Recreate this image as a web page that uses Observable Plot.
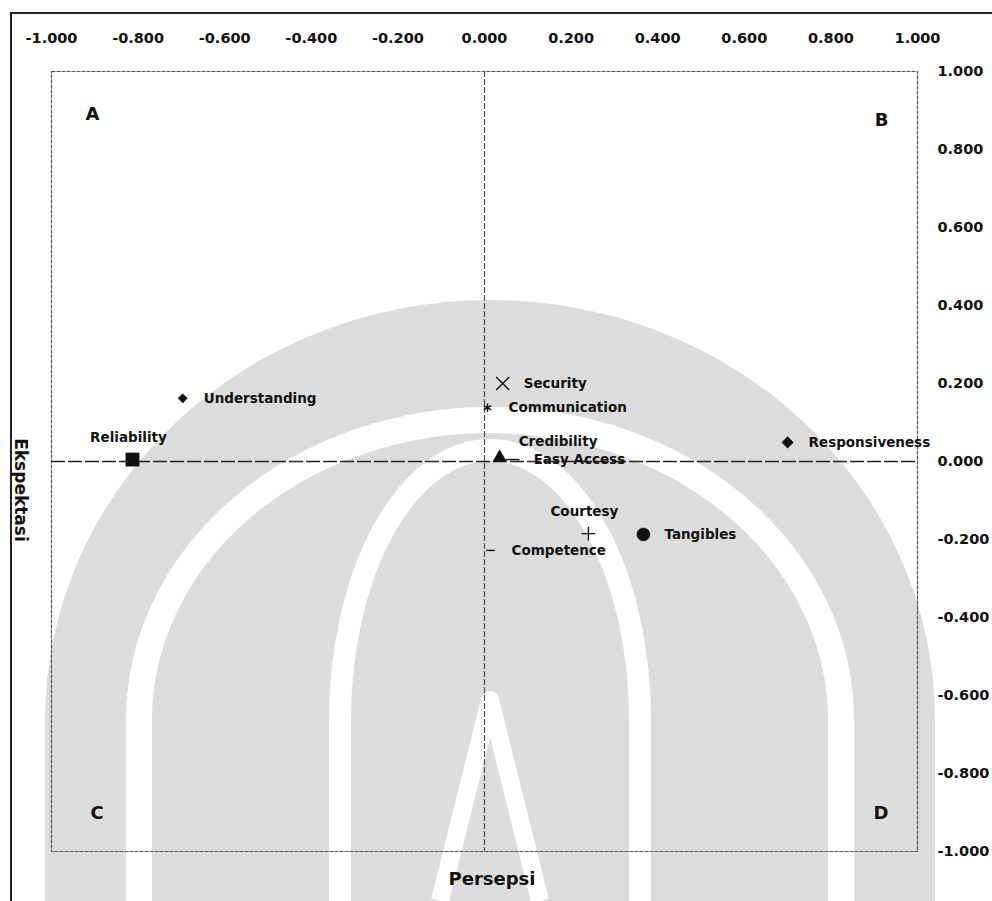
<!DOCTYPE html>
<html>
<head>
<meta charset="utf-8">
<script src="https://cdn.jsdelivr.net/npm/d3@7"></script>
<script src="https://cdn.jsdelivr.net/npm/@observablehq/plot@0.6"></script>
<style>
  html, body { margin: 0; padding: 0; background: #fff; }
  #wrap { position: relative; width: 992px; height: 901px; overflow: hidden; }
  #watermark { position: absolute; left: 0; top: 0; }
  #border { position: absolute; left: 10px; top: 12px; width: 990px; height: 900px;
            border-left: 2px solid #222; border-top: 2px solid #222; }
  #chart { position: absolute; left: 0; top: 0; }
  #ytitle { position: absolute; left: 21px; top: 490px; transform: translate(-50%, -50%) rotate(90deg);
            font: bold 17px "DejaVu Sans", sans-serif; color: #111; white-space: nowrap; }
  #xtitle { position: absolute; left: 492px; top: 878px; transform: translate(-50%, -50%);
            font: bold 18px "DejaVu Sans", sans-serif; color: #111; white-space: nowrap; }
</style>
</head>
<body>
<div id="wrap">
  <!-- faint background emblem (scanned watermark), decoration only -->
  <svg id="watermark" width="992" height="901" viewBox="0 0 992 901">
    <path d="M 45 901 L 45 720 A 445 420 0 0 1 935 720 L 935 901 Z" fill="#dcdcdc"/>
    <g fill="none" stroke="#fff" stroke-linejoin="round">
      <path d="M 139 901 L 139 720 A 351 300 0 0 1 841 720 L 841 901" stroke-width="26"/>
      <path d="M 340 901 L 340 720 A 150 270 0 0 1 640 720 L 640 901" stroke-width="22"/>
      <path d="M 440 901 L 490 700 L 540 901" stroke-width="18"/>
    </g>
  </svg>
  <div id="border"></div>
  <div id="chart"></div>
  <div id="ytitle">Ekspektasi</div>
  <div id="xtitle">Persepsi</div>
</div>
<script>
// ---- data ----
const dimensions   = ["Reliability", "Understanding", "Security", "Communication", "Credibility",
                      "Easy Access", "Responsiveness", "Courtesy", "Tangibles", "Competence"];
const persepsi     = [-0.813, -0.697, 0.042, 0.007, 0.035, 0.065, 0.700, 0.240, 0.367, 0.014];
const ekspektasi   = [0.005, 0.162, 0.200, 0.138, 0.010, 0.005, 0.049, -0.185, -0.187, -0.228];
const labelPlacement = ["above", "right", "right", "right", "aboveRight",
                        "right", "right", "above", "right", "right"];
const xTicks = [-1, -0.8, -0.6, -0.4, -0.2, 0, 0.2, 0.4, 0.6, 0.8, 1];
const yTicks = [-1, -0.8, -0.6, -0.4, -0.2, 0, 0.2, 0.4, 0.6, 0.8, 1];
const quadrantLabels = ["A", "B", "C", "D"];

// ---- styling (not data) ----
const dashSymbol = {
  draw(context, size) {
    const w = Math.sqrt(size) * 0.7;
    context.moveTo(-w, 0); context.lineTo(w, 0);
  }
};
const markerStyle = {
  "Reliability":    {symbol: "square",   r: 7.5, filled: true},
  "Understanding":  {symbol: "diamond2", r: 4.2, filled: true},
  "Security":       {symbol: "times",    r: 6,   filled: false},
  "Communication":  {symbol: "asterisk", r: 4,   filled: false},
  "Credibility":    {symbol: "triangle", r: 5,   filled: true},
  "Easy Access":    {symbol: dashSymbol, r: 5.5, filled: false},
  "Responsiveness": {symbol: "diamond2", r: 5.2, filled: true},
  "Courtesy":       {symbol: "plus",     r: 4.5, filled: false},
  "Tangibles":      {symbol: "circle",   r: 6.5, filled: true},
  "Competence":     {symbol: dashSymbol, r: 3.5, filled: false}
};
const placement = {
  right:      {dx: 21, dy: 0,   textAnchor: "start"},
  above:      {dx: -4, dy: -22, textAnchor: "middle"},
  aboveRight: {dx: 19, dy: -16, textAnchor: "start"}
};

const rows = dimensions.map((name, i) => ({
  name, x: persepsi[i], y: ekspektasi[i], place: labelPlacement[i]
}));

const font = "'DejaVu Sans', sans-serif";
const fmt = d => d.toFixed(3);
const labelMarks = Object.entries(placement).map(([key, p]) =>
  Plot.text(rows.filter(d => d.place === key), {
    x: "x", y: "y", text: "name", dx: p.dx, dy: p.dy, textAnchor: p.textAnchor,
    fontSize: 13.5, fontWeight: "bold", fill: "#111", fontFamily: font
  })
);

const quadText = (letter, frameAnchor, dx, dy) => Plot.text([letter], {
  text: d => d, frameAnchor, dx, dy, fontSize: 18, fontWeight: "bold", fill: "#111", fontFamily: font
});

const chart = Plot.plot({
  width: 992,
  height: 901,
  marginLeft: 51,
  marginRight: 75,
  marginTop: 71,
  marginBottom: 50,
  style: {fontFamily: font, background: "transparent"},
  x: {domain: [-1, 1], label: null},
  y: {domain: [-1, 1], label: null},
  r: {type: "identity"},
  marks: [
    Plot.frame({stroke: "#555", strokeWidth: 1.2, strokeDasharray: "4,1"}),
    Plot.ruleX([0], {stroke: "#555", strokeWidth: 1.2, strokeDasharray: "6,2"}),
    Plot.ruleY([0], {stroke: "#222", strokeWidth: 1.4, strokeDasharray: "14,3"}),
    Plot.axisX({anchor: "top", ticks: xTicks, tickSize: 0, tickPadding: 29,
                tickFormat: fmt, fontSize: 14.5, fontWeight: "bold", fill: "#111", label: null}),
    Plot.axisY({anchor: "right", ticks: yTicks, tickSize: 0, tickPadding: 20,
                tickFormat: fmt, fontSize: 14.5, fontWeight: "bold", fill: "#111", label: null}),
    Plot.dot(rows, {
      x: "x", y: "y",
      symbol: d => markerStyle[d.name].symbol,
      r: d => markerStyle[d.name].r,
      fill: d => markerStyle[d.name].filled ? "#111" : "none",
      stroke: "#111",
      strokeWidth: d => markerStyle[d.name].filled ? 0.5 : 1.4
    }),
    ...labelMarks,
    quadText(quadrantLabels[0], "top-left", 34, 36),
    quadText(quadrantLabels[1], "top-right", -29, 42),
    quadText(quadrantLabels[2], "bottom-left", 39, -33),
    quadText(quadrantLabels[3], "bottom-right", -29, -33)
  ]
});
document.getElementById("chart").appendChild(chart);
</script>
</body>
</html>
